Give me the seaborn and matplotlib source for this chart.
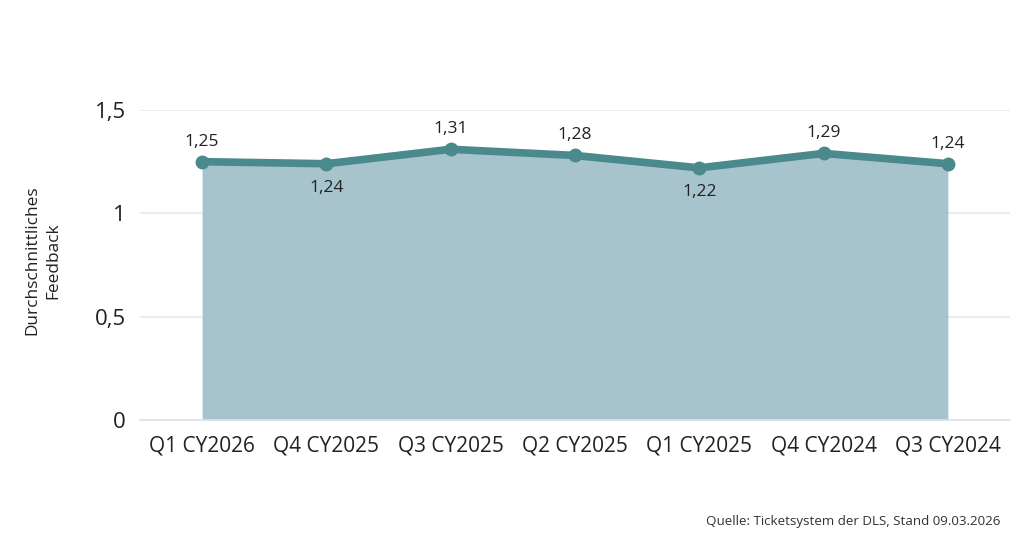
import matplotlib
matplotlib.use("Agg")
import matplotlib.pyplot as plt
import seaborn as sns
import pandas as pd
from matplotlib.ticker import FuncFormatter

quarters = ["Q1 CY2026", "Q4 CY2025", "Q3 CY2025", "Q2 CY2025", "Q1 CY2025", "Q4 CY2024", "Q3 CY2024"]
feedback = [1.25, 1.24, 1.31, 1.28, 1.22, 1.29, 1.24]
label_above = [True, False, True, True, False, True, True]
yticks = [0, 0.5, 1, 1.5]

sns.set_theme(style="white")
plt.rcParams['font.family'] = ['Open Sans', 'DejaVu Sans']

line_color = "#4a898c"
fill_color = "#a7c4cd"

fig = plt.figure(figsize=(10.24, 5.54), dpi=100)
ax = fig.add_axes([140/1024, 1-420/554, 870/1024, 310/554])

df = pd.DataFrame({"quarter": quarters, "feedback": feedback})
xs = list(range(len(quarters)))
ax.fill_between(xs, feedback, 0, color=fill_color, linewidth=0, zorder=1)
sns.lineplot(data=df, x="quarter", y="feedback", ax=ax, color=line_color, linewidth=5.5,
             marker="o", markersize=10, markeredgewidth=0, zorder=3, sort=False)

for x, v, up in zip(xs, feedback, label_above):
    off = 14.5 if up else -17.5
    ax.annotate(f"{v:.2f}".replace(".", ","), (x, v), xytext=(0, off), textcoords="offset points",
                ha="center", va="center", fontsize=12.5, color="#222222")

ax.set_xlim(-0.5, len(quarters) - 0.5)
ax.set_ylim(0, 1.5)
ax.set_yticks(yticks)
ax.yaxis.set_major_formatter(FuncFormatter(lambda v, p: f"{v:g}".replace(".", ",")))
ax.grid(axis="y", color="#e3e9eb", linewidth=1.2, zorder=0)
ax.set_axisbelow(True)
for s in ["top", "right", "left"]:
    ax.spines[s].set_visible(False)
ax.spines["bottom"].set_color("#dde3e5")
ax.spines["bottom"].set_linewidth(1.2)
ax.tick_params(axis="y", labelsize=16, colors="#222222", length=0, pad=10)
ax.tick_params(axis="x", labelsize=15, colors="#222222", length=0, pad=11)
ax.set_xlabel("")
ax.set_ylabel("Durchschnittliches\nFeedback", fontsize=12.4, color="#222222",
              linespacing=1.45)
ax.yaxis.set_label_coords(-0.09, 0.515)

fig.text(1000/1024, 1-521/554, "Quelle: Ticketsystem der DLS, Stand 09.03.2026", ha="right", va="center",
         fontsize=9.6, color="#333333")

fig.savefig("out.png", dpi=100)
